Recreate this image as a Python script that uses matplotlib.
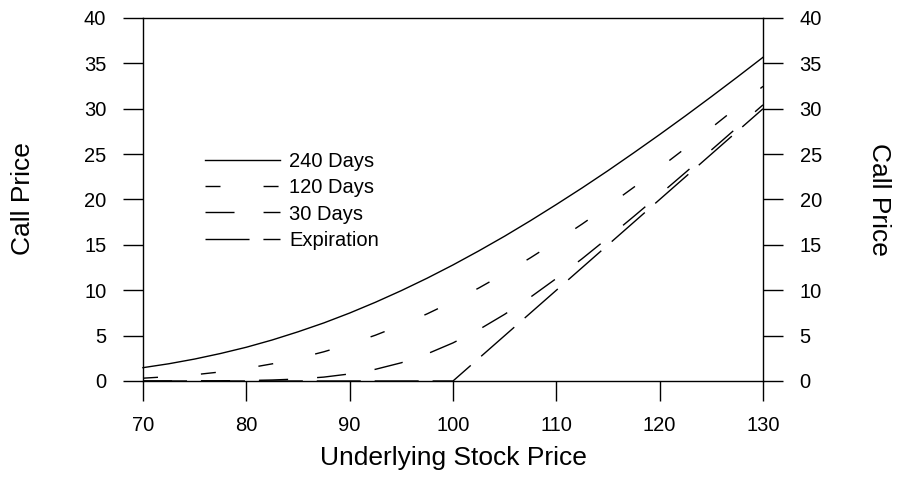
import matplotlib
matplotlib.use("Agg")
import matplotlib.pyplot as plt

plt.rcParams["font.family"] = ["Liberation Sans", "DejaVu Sans"]
plt.rcParams["lines.scale_dashes"] = False

# Values (call price vs underlying price).
stock = [70, 72.5, 75, 77.5, 80, 82.5, 85, 87.5, 90, 92.5, 95, 97.5, 100,
         102.5, 105, 107.5, 110, 112.5, 115, 117.5, 120, 122.5, 125, 127.5, 130]
days_240 = [1.47, 1.90, 2.42, 3.03, 3.72, 4.52, 5.42, 6.40, 7.49, 8.68, 9.96, 11.33, 12.79,
            14.34, 15.96, 17.67, 19.45, 21.28, 23.18, 25.15, 27.16, 29.22, 31.33, 33.48, 35.67]
days_120 = [0.31, 0.48, 0.69, 1.00, 1.39, 1.89, 2.49, 3.22, 4.07, 5.05, 6.17, 7.40, 8.77,
            10.25, 11.86, 13.58, 15.40, 17.30, 19.28, 21.35, 23.48, 25.66, 27.90, 30.17, 32.47]
days_30 = [0.0, 0.0, 0.01, 0.02, 0.05, 0.11, 0.22, 0.43, 0.78, 1.29, 2.01, 2.99, 4.20,
           5.66, 7.35, 9.24, 11.30, 13.48, 15.78, 18.14, 20.54, 22.98, 25.45, 27.94, 30.43]
expiration = [0, 0, 0, 0, 0, 0, 0, 0, 0, 0, 0, 0, 0,
              2.5, 5, 7.5, 10, 12.5, 15, 17.5, 20, 22.5, 25, 27.5, 30]

labels = ["240 Days", "120 Days", "30 Days", "Expiration"]
x_ticks = [70, 80, 90, 100, 110, 120, 130]
y_ticks = [0, 5, 10, 15, 20, 25, 30, 35, 40]

fig = plt.figure(figsize=(9.01, 4.87), dpi=100)
ax = fig.add_axes([143 / 901, 1 - 381 / 487, 620 / 901, 363 / 487])

lw = 1.0
ax.plot(stock, days_240, color="black", lw=lw, label=labels[0], clip_on=False)
ax.plot(stock, days_120, color="black", lw=lw, dashes=(10.8, 31.0), label=labels[1], clip_on=False)
ax.plot(stock, days_30, color="black", lw=lw, dashes=(20.9, 20.9), label=labels[2], clip_on=False)
ax.plot(stock, expiration, color="black", lw=lw, dashes=(31.7, 10.0), label=labels[3], clip_on=False)

ax.set_xlim(70, 130)
ax.set_ylim(0, 40)
ax.set_xticks(x_ticks)
ax.set_yticks(y_ticks)
for s in ax.spines.values():
    s.set_linewidth(1.0)
ax.tick_params(axis="both", direction="out", length=14.4, width=1.0, labelsize=14.5, color="black")
ax.tick_params(axis="y", right=True, labelright=True, pad=12)
ax.tick_params(axis="x", pad=11)

fig.text(23 / 901, 1 - 199 / 487, "Call Price", rotation=90, ha="center", va="center", fontsize=19)
fig.text(879 / 901, 1 - 199 / 487, "Call Price", rotation=270, ha="center", va="center", fontsize=19)
fig.text(453 / 901, 1 - 458 / 487, "Underlying Stock Price", ha="center", va="center", fontsize=19)

ax.legend(loc="upper left", bbox_to_anchor=((205 - 143) / 620, (381 - 152) / 363),
          frameon=False, fontsize=14.5, handlelength=75 / 20.1, handletextpad=0.45,
          labelspacing=0.36, borderpad=0, borderaxespad=0)

fig.savefig("out.png", dpi=100)
